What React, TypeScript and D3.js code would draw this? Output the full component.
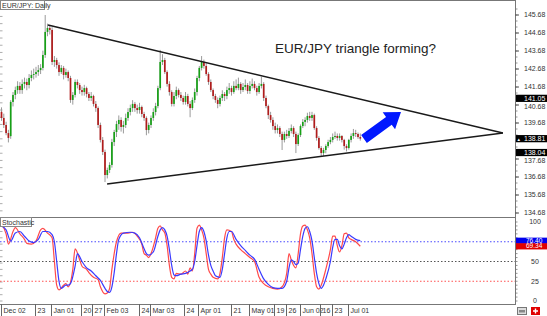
import React from "react";
import * as d3 from "d3";

// ---------- DATA ----------
// daily candles [open, high, low, close]
const candles: [number, number, number, number][] = [
  [140.30, 140.55, 139.80, 139.96], [139.96, 140.20, 139.40, 139.57], [139.57, 139.75, 139.00, 139.12], [139.12, 139.30, 138.60, 138.85],
  [138.95, 140.95, 138.80, 140.85], [140.85, 141.40, 140.60, 141.24], [141.24, 141.70, 141.00, 141.51], [141.51, 142.00, 141.30, 141.74],
  [141.74, 141.95, 141.30, 141.51], [141.51, 142.10, 141.30, 141.85], [141.85, 142.20, 141.60, 141.96], [141.96, 142.15, 141.50, 141.79],
  [141.79, 142.40, 141.60, 142.18], [142.18, 142.60, 142.00, 142.35], [142.35, 142.70, 142.10, 142.40], [142.40, 142.80, 142.20, 142.51],
  [142.51, 142.90, 142.30, 142.62], [142.62, 142.95, 142.40, 142.74], [142.74, 143.70, 142.60, 143.46], [143.46, 145.68, 143.30, 144.74],
  [144.74, 145.20, 144.50, 144.96], [144.96, 145.10, 144.60, 144.85], [144.85, 145.00, 142.90, 143.07], [143.07, 143.40, 142.80, 143.18],
  [143.18, 143.30, 142.70, 142.90], [142.90, 143.05, 142.30, 142.51], [142.51, 142.90, 142.40, 142.74], [142.74, 142.85, 142.10, 142.35],
  [142.35, 142.70, 142.20, 142.51], [142.51, 142.60, 142.00, 142.18], [142.18, 142.30, 140.80, 140.96], [140.96, 141.40, 140.70, 141.24],
  [141.24, 142.10, 141.10, 141.96], [141.96, 142.10, 141.60, 141.79], [141.79, 141.90, 141.30, 141.51], [141.51, 141.70, 141.20, 141.40],
  [141.40, 141.80, 141.20, 141.62], [141.62, 141.70, 141.10, 141.29], [141.29, 141.40, 140.90, 141.07], [141.07, 141.40, 140.90, 141.18],
  [141.18, 141.25, 140.60, 140.74], [140.74, 140.90, 140.30, 140.51], [140.51, 140.60, 139.40, 139.57], [139.57, 139.70, 138.60, 138.74],
  [138.74, 138.90, 137.90, 138.07], [138.07, 138.20, 136.40, 136.79], [136.79, 137.20, 136.60, 137.07], [137.07, 137.50, 136.90, 137.35],
  [137.35, 138.80, 137.20, 138.62], [138.62, 139.30, 138.40, 139.18], [139.18, 139.80, 138.90, 139.62], [139.62, 140.10, 139.30, 139.85],
  [139.85, 140.00, 139.20, 139.46], [139.46, 139.80, 139.10, 139.57], [139.57, 140.20, 139.40, 139.96], [139.96, 140.50, 139.80, 140.29],
  [140.29, 140.70, 140.10, 140.51], [140.51, 140.95, 140.30, 140.74], [140.74, 140.85, 140.30, 140.51], [140.51, 140.70, 140.20, 140.40],
  [140.40, 140.80, 140.20, 140.57], [140.57, 140.65, 140.00, 140.18], [140.18, 140.30, 139.80, 139.96], [139.96, 140.05, 139.00, 139.29],
  [139.29, 139.70, 139.10, 139.57], [139.57, 140.10, 139.40, 139.96], [139.96, 140.50, 139.80, 140.29], [140.29, 140.80, 140.10, 140.62],
  [140.62, 141.75, 140.50, 141.62], [141.62, 143.74, 141.50, 143.07], [143.07, 143.50, 142.90, 143.18], [143.18, 143.30, 142.40, 142.51],
  [142.51, 142.60, 141.70, 141.85], [141.85, 142.00, 141.20, 141.40], [141.40, 141.50, 140.60, 140.74], [140.74, 141.40, 140.60, 141.18],
  [141.18, 141.70, 141.00, 141.51], [141.51, 141.60, 141.10, 141.24], [141.24, 141.40, 140.90, 141.07], [141.07, 141.20, 140.70, 140.85],
  [140.85, 141.40, 140.70, 141.18], [141.18, 141.30, 140.60, 140.74], [140.74, 140.90, 140.00, 140.51], [140.51, 141.10, 140.40, 140.96],
  [140.96, 141.60, 140.80, 141.40], [141.40, 142.30, 141.20, 142.18], [142.18, 142.85, 142.00, 142.74], [142.74, 143.40, 142.60, 143.07],
  [143.07, 143.20, 142.70, 142.85], [142.85, 143.00, 142.30, 142.40], [142.40, 142.50, 141.80, 141.96], [141.96, 142.10, 141.40, 141.51],
  [141.51, 141.60, 141.00, 141.18], [141.18, 141.30, 140.80, 140.96], [140.96, 141.10, 140.50, 140.74], [140.74, 141.20, 140.60, 141.07],
  [141.07, 141.50, 140.90, 141.29], [141.29, 141.40, 140.90, 141.18], [141.18, 141.70, 141.00, 141.51], [141.51, 141.90, 141.30, 141.62],
  [141.62, 141.75, 141.20, 141.40], [141.40, 142.00, 141.30, 141.74], [141.74, 142.10, 141.50, 141.62], [141.62, 142.20, 141.50, 141.85],
  [141.85, 141.95, 141.30, 141.51], [141.51, 141.90, 141.40, 141.68], [141.68, 142.10, 141.50, 141.79], [141.79, 141.90, 141.30, 141.46],
  [141.46, 142.00, 141.30, 141.74], [141.74, 142.15, 141.60, 141.85], [141.85, 142.00, 141.50, 141.62], [141.62, 141.75, 141.20, 141.40],
  [141.40, 141.90, 141.30, 141.74], [141.74, 142.25, 141.60, 141.85], [141.85, 141.95, 140.90, 141.07], [141.07, 141.20, 140.50, 140.62],
  [140.62, 140.70, 139.90, 140.12], [140.12, 140.30, 139.70, 139.85], [139.85, 140.00, 139.30, 139.51], [139.51, 139.70, 139.10, 139.29],
  [139.29, 139.60, 139.10, 139.40], [139.40, 139.50, 138.90, 139.07], [139.07, 139.20, 138.18, 138.74], [138.74, 139.20, 138.60, 139.07],
  [139.07, 139.30, 138.80, 138.96], [138.96, 139.40, 138.85, 139.24], [139.24, 139.60, 139.10, 139.40], [139.40, 139.50, 138.90, 139.07],
  [139.07, 139.20, 138.01, 138.51], [138.51, 139.10, 138.40, 139.01], [139.01, 139.60, 138.90, 139.51], [139.51, 139.90, 139.40, 139.74],
  [139.74, 140.00, 139.50, 139.85], [139.85, 140.25, 139.70, 140.07], [140.07, 140.30, 139.80, 139.96], [139.96, 140.30, 139.80, 140.12],
  [140.12, 140.20, 139.30, 139.40], [139.40, 139.50, 138.70, 138.85], [138.85, 138.95, 138.20, 138.29], [138.29, 138.40, 137.79, 138.01],
  [138.01, 138.30, 137.85, 138.18], [138.18, 138.50, 138.00, 138.40], [138.40, 138.75, 138.30, 138.62], [138.62, 138.90, 138.50, 138.74],
  [138.74, 139.10, 138.60, 138.90], [138.90, 139.20, 138.80, 138.96], [138.96, 139.10, 138.70, 138.85], [138.85, 139.10, 138.70, 138.96],
  [138.96, 139.00, 138.60, 138.74], [138.74, 138.80, 138.20, 138.40], [138.40, 138.50, 138.10, 138.29], [138.29, 138.80, 138.20, 138.74],
  [138.74, 139.10, 138.60, 138.96], [138.96, 139.35, 138.80, 139.12], [139.12, 139.30, 138.90, 139.07], [139.07, 139.15, 138.80, 138.90],
  [138.90, 139.10, 138.70, 138.81],
];

const dateLabels = ["Dec 02", "23", "Jan 01", "20", "27", "Feb 03", "24", "Mar 03", "24", "Apr 01", "21", "May 01", "19", "26", "Jun 02", "16", "23", "Jul 01"];
const dateIndex = [0, 15, 22, 35, 40, 45, 60, 65, 80, 86, 100, 108, 119, 124, 130, 139, 144, 151];

const priceTicks = [145.68, 144.68, 143.68, 142.68, 141.68, 140.68, 139.68, 138.68, 137.68, 136.68, 135.68, 134.68];
const priceMarkers = [141.05, 138.81, 138.04];

// stochastic %K (red) and %D (blue): [candle index, value]
const stochK: [number, number][] = [
  [0, 97], [2, 85], [3, 72], [5, 88], [6, 93], [8, 85], [10, 78], [11, 73], [13, 72], [15, 76], [17, 90], [18, 92], [20, 86], [22, 80],
  [23, 50], [24, 20], [25, 14], [27, 20], [28, 22], [29, 18], [31, 40], [32, 66], [34, 52], [35, 44], [37, 40], [38, 36], [40, 30], [42, 27],
  [43, 18], [45, 9], [46, 10], [47, 16], [48, 40], [50, 75], [52, 86], [55, 86], [57, 87], [59, 82], [61, 72], [62, 60], [63, 58], [64, 55],
  [65, 60], [67, 80], [68, 92], [69, 95], [70, 90], [71, 86], [72, 70], [73, 45], [74, 30], [75, 28], [76, 35], [78, 34], [80, 38], [81, 34],
  [82, 42], [83, 38], [84, 60], [85, 92], [86, 96], [87, 90], [88, 80], [89, 60], [90, 40], [91, 34], [92, 30], [94, 28], [95, 35], [96, 55],
  [97, 80], [98, 90], [100, 88], [101, 78], [102, 72], [104, 65], [106, 60], [108, 55], [110, 50], [112, 30], [114, 22], [116, 18], [118, 16],
  [120, 15], [122, 18], [124, 35], [125, 60], [126, 52], [127, 45], [128, 42], [129, 60], [130, 85], [131, 95], [132, 96], [133, 90], [134, 80],
  [135, 60], [136, 35], [137, 18], [138, 15], [139, 20], [141, 40], [143, 65], [144, 82], [145, 82], [146, 70], [147, 62], [148, 70], [149, 85],
  [150, 86], [151, 80], [152, 78], [154, 75], [156, 69.34],
];
const stochD: [number, number][] = [
  [0, 95], [2, 90], [4, 76], [6, 86], [8, 88], [10, 82], [12, 76], [14, 74], [16, 78], [18, 88], [20, 88], [22, 84], [23, 75], [24, 50],
  [25, 25], [26, 16], [28, 20], [29, 20], [30, 22], [32, 44], [33, 60], [35, 50], [37, 42], [39, 38], [41, 32], [43, 26], [45, 16], [46, 12],
  [47, 11], [48, 18], [49, 36], [50, 60], [51, 78], [53, 86], [56, 87], [58, 86], [60, 80], [62, 66], [63, 60], [64, 58], [66, 62], [68, 82],
  [69, 90], [70, 93], [71, 90], [72, 82], [73, 65], [74, 45], [75, 33], [76, 32], [78, 34], [80, 35], [82, 38], [83, 40], [84, 50], [85, 70],
  [86, 88], [87, 93], [88, 88], [89, 76], [90, 58], [91, 45], [92, 38], [93, 32], [95, 30], [96, 40], [97, 60], [98, 80], [99, 88], [100, 88],
  [102, 78], [104, 70], [106, 64], [108, 58], [110, 53], [112, 40], [114, 28], [116, 21], [118, 17], [120, 16], [122, 16], [124, 25], [125, 42],
  [126, 52], [127, 50], [128, 46], [129, 48], [130, 65], [131, 82], [132, 92], [133, 94], [134, 88], [135, 76], [136, 55], [137, 35], [138, 22],
  [139, 16], [140, 20], [141, 28], [143, 50], [144, 68], [145, 78], [146, 78], [147, 70], [148, 66], [149, 72], [150, 80], [151, 84], [152, 82],
  [154, 78], [156, 76.4],
];
const stochTicks = [100, 50, 25, 0];
const stochLevels = [75, 50, 25];
const stochMarkers = [76.40, 69.34];

// trendlines [candle index, price]
const upperTrend: [number, number][] = [[20.2, 145.12], [218, 139.12]];
const lowerTrend: [number, number][] = [[45.9, 136.29], [218, 139.12]];

const title = "EUR/JPY: Daily";
const annotation = "EUR/JPY triangle forming?";

// ---------- LAYOUT ----------
const W = 547, H = 316;
const AXIS_X = 515;
const MAIN_BOTTOM = 217;
const STOCH_BOTTOM = 304;
const FONT = "Arial, 'Liberation Sans', sans-serif";

export default function App() {
  const x = d3.scaleLinear().domain([0, 156]).range([1.5, 360.3]);
  const y = d3.scaleLinear().domain([134.68, 145.68]).range([213, 15]);
  const ys = d3.scaleLinear().domain([0, 100]).range([301, 222]);

  const lineMain = d3.line<[number, number]>().x(d => x(d[0])).y(d => y(d[1]));
  const lineStoch = d3.line<[number, number]>().x(d => x(d[0])).y(d => ys(d[1])).curve(d3.curveMonotoneX);

  const priceMinor = d3.range(134.68 - 1, 146.2, 1 / 3);
  const stochMinor = d3.range(-5, 106, 5);
  const leftMinor = d3.range(134.0, 146.5, 0.4);

  // tick labels hidden behind a marker box
  const visibleTicks = priceTicks.filter(v => !priceMarkers.some(m => Math.abs(y(m) - y(v)) < 4));

  // arrow geometry
  const T = [364, 139], P = [401, 112];
  const dx = P[0] - T[0], dy = P[1] - T[1];
  const len = Math.hypot(dx, dy);
  const ux = dx / len, uy = dy / len, nx = -uy, ny = ux;
  const hw = 4.8, hh = 10.5, hl = 15;
  const Hx = P[0] - ux * hl, Hy = P[1] - uy * hl;
  const arrowPts = [
    [T[0] + nx * hw, T[1] + ny * hw], [Hx + nx * hw, Hy + ny * hw], [Hx + nx * hh, Hy + ny * hh], [P[0], P[1]],
    [Hx - nx * hh, Hy - ny * hh], [Hx - nx * hw, Hy - ny * hw], [T[0] - nx * hw, T[1] - ny * hw],
  ].map(p => p.join(",")).join(" ");

  const bw = 1.7;

  return (
    <svg width={W} height={H} style={{ position: "absolute", left: 0, top: 0, background: "#fff" }} fontFamily={FONT}>
      <rect x={0} y={0} width={W} height={H} fill="#fff" />
      <defs>
        <clipPath id="stochClip"><rect x={0} y={MAIN_BOTTOM} width={AXIS_X} height={STOCH_BOTTOM - MAIN_BOTTOM} /></clipPath>
        <clipPath id="mainClip"><rect x={0} y={0} width={AXIS_X} height={MAIN_BOTTOM} /></clipPath>
      </defs>

      {/* left edge minor ticks */}
      {leftMinor.map((v, i) => (
        <line key={"lm" + i} x1={0} x2={2.5} y1={y(v)} y2={y(v)} stroke="#999" strokeWidth={0.8} />
      ))}
      {d3.range(0, 106, 8).map((v, i) => (
        <line key={"ls" + i} x1={0} x2={2.5} y1={ys(v)} y2={ys(v)} stroke="#999" strokeWidth={0.8} />
      ))}

      {/* candles */}
      <g clipPath="url(#mainClip)">
        {candles.map((c, i) => {
          const [o, h, l, cl] = c;
          const up = cl >= o;
          const cx = x(i);
          const top = y(Math.max(o, cl)), bot = y(Math.min(o, cl));
          return (
            <g key={"c" + i}>
              <line x1={cx} x2={cx} y1={y(h)} y2={y(l)} stroke="#9a9a9a" strokeWidth={1} />
              <rect x={cx - bw / 2} y={top} width={bw} height={Math.max(0.8, bot - top)} fill={up ? "#16a016" : "#b01c1c"} />
            </g>
          );
        })}
        <path d={lineMain(upperTrend) || ""} stroke="#1a1a1a" strokeWidth={1.5} fill="none" />
        <path d={lineMain(lowerTrend) || ""} stroke="#1a1a1a" strokeWidth={1.5} fill="none" />
        <polygon points={arrowPts} fill="#0018ff" />
        <text x={275} y={53} fontSize={13.5} fill="#222">{annotation}</text>
      </g>

      {/* stochastic */}
      <g clipPath="url(#stochClip)">
        {stochLevels.map((lv, i) => (
          <line key={"lv" + i} x1={0} x2={AXIS_X} y1={ys(lv)} y2={ys(lv)}
            stroke={i === 0 ? "#4a4aff" : i === 1 ? "#555" : "#ff5050"} strokeWidth={1} strokeDasharray="1.5,2" />
        ))}
        <path d={lineStoch(stochK) || ""} stroke="#ff4a4a" strokeWidth={1.2} fill="none" />
        <path d={lineStoch(stochD) || ""} stroke="#3a3aff" strokeWidth={1.2} fill="none" />
      </g>

      {/* frames */}
      <line x1={0} x2={AXIS_X} y1={0.5} y2={0.5} stroke="#777" />
      <line x1={0} x2={AXIS_X} y1={MAIN_BOTTOM + 0.5} y2={MAIN_BOTTOM + 0.5} stroke="#777" />
      <line x1={0} x2={AXIS_X} y1={STOCH_BOTTOM + 0.5} y2={STOCH_BOTTOM + 0.5} stroke="#777" />
      <line x1={AXIS_X + 0.5} x2={AXIS_X + 0.5} y1={0} y2={STOCH_BOTTOM + 1} stroke="#777" />

      {/* price axis */}
      {priceMinor.filter(v => y(v) > 2 && y(v) < MAIN_BOTTOM - 1).map((v, i) => (
        <line key={"pm" + i} x1={AXIS_X} x2={AXIS_X + 2.5} y1={y(v)} y2={y(v)} stroke="#777" strokeWidth={0.8} />
      ))}
      {priceTicks.map((v, i) => (
        <line key={"ptl" + i} x1={AXIS_X} x2={AXIS_X + 4} y1={y(v)} y2={y(v)} stroke="#555" />
      ))}
      {visibleTicks.map((v, i) => {
        const near = priceMarkers.find(m => Math.abs(y(m) - y(v)) < 9);
        const off = near === undefined ? 0 : (y(v) > y(near) ? 1.2 : -1.2);
        return (
          <text key={"pt" + i} x={524} y={y(v) + 2.4 + off} fontSize={7} fill="#333">{v.toFixed(2)}</text>
        );
      })}
      {priceMarkers.map((v, i) => (
        <g key={"mk" + i}>
          <rect x={AXIS_X + 1} y={y(v) - 3.6} width={W - AXIS_X - 1} height={7.2} fill="#000" />
          <text x={524} y={y(v) + 2.5} fontSize={7} fill="#fff">{v.toFixed(2)}</text>
        </g>
      ))}
      <text x={516.5} y={y(138.81) + 2.2} fontSize={4.5} fill="#fff">▲</text>

      {/* stoch axis */}
      {stochMinor.filter(v => ys(v) > MAIN_BOTTOM + 2 && ys(v) < STOCH_BOTTOM).map((v, i) => (
        <line key={"sm" + i} x1={AXIS_X} x2={AXIS_X + 2.5} y1={ys(v)} y2={ys(v)} stroke="#777" strokeWidth={0.8} />
      ))}
      {stochTicks.map((v, i) => (
        <text key={"st" + i} x={535} y={ys(v) + 2.4} fontSize={7} fill="#333" textAnchor="middle">{v}</text>
      ))}
      {stochMarkers.map((v, i) => (
        <g key={"sk" + i}>
          <rect x={AXIS_X + 1} y={ys(v) - 3} width={W - AXIS_X - 1} height={6.2} fill={i === 0 ? "#0000ee" : "#e00000"} />
          <text x={526} y={ys(v) + 2.2} fontSize={6.5} fill="#fff">{v.toFixed(2)}</text>
        </g>
      ))}

      {/* date axis */}
      {dateLabels.map((lab, i) => {
        const sx = Math.round(x(dateIndex[i]) - 1) + 0.5;
        return (
          <g key={"d" + i}>
            <line x1={sx} x2={sx} y1={STOCH_BOTTOM} y2={H} stroke="#666" />
            <text x={sx + 2} y={313} fontSize={7} fill="#333">{lab}</text>
          </g>
        );
      })}

      {/* title boxes */}
      <rect x={0.5} y={0.5} width={44} height={9} fill="#fff" stroke="#888" />
      <text x={2} y={7.5} fontSize={7} fill="#333">{title}</text>
      <rect x={0.5} y={MAIN_BOTTOM + 0.5} width={31} height={9} fill="#fff" stroke="#888" />
      <text x={2} y={MAIN_BOTTOM + 7.5} fontSize={7} fill="#333">Stochastic</text>

      {/* bottom-right icons */}
      <rect x={517.5} y={307.5} width={9} height={7} fill="#ddd" stroke="#777" />
      <rect x={519} y={310} width={6} height={2.5} fill="#888" />
      <rect x={531} y={307} width={9} height={8} fill="#e00000" />
      <path d="M535.5,308.5 v5 M533,311 h5" stroke="#fff" strokeWidth={1.4} />
    </svg>
  );
}
